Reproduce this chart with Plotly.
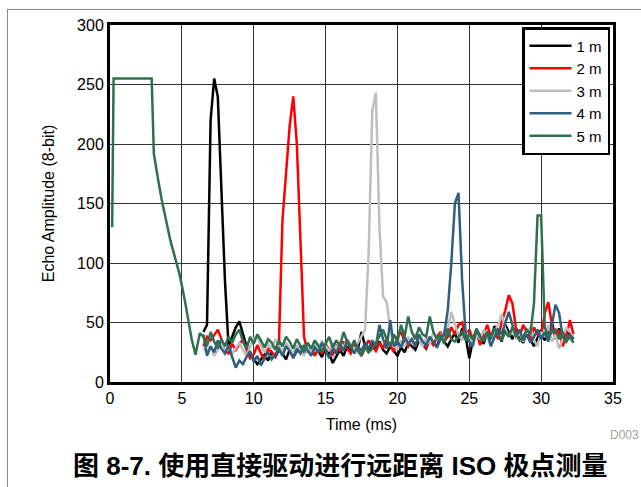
import plotly.graph_objects as go

# Shared sampling grid for the echo/noise segment (ms)
time_ms = [round(6.5 + 0.25 * i, 2) for i in range(104)]

# 5 m ring-down section (start of capture)
ring_t = [0.15, 0.25, 2.9, 3.05, 3.35, 3.6, 4.2, 4.85, 5.2, 5.45, 5.7, 5.95, 6.25]
ring_v = [130, 255, 255, 192, 170, 153, 119, 90, 69, 52, 35, 23, 41]

echo_1m = [42, 48,
           220, 255, 240, 160,
           85, 30, 38, 46,
           51, 40, 30, 24,
           20, 15, 19, 23,
           18, 25, 21, 27,
           24, 19, 27, 21,
           26, 30, 24, 28,
           23, 31, 26, 21,
           29, 24, 16, 22,
           27, 22, 30, 25,
           33, 28, 42, 30,
           25, 32, 28, 34,
           27, 24, 30, 26,
           22, 29, 25, 33,
           30, 27, 35, 31,
           28, 36, 33, 30,
           38, 34, 30, 36,
           41, 33, 45, 38,
           20, 35, 44, 39,
           32, 42, 36, 47,
           40, 34, 48, 42,
           36, 45, 38, 33,
           42, 36, 30, 37,
           44, 35, 40, 50,
           38, 45, 35, 42,
           40, 36]

echo_2m = [30, 38,
           35, 40, 44, 36,
           26, 24, 32, 27,
           31, 36, 27, 20,
           23, 31, 24, 19,
           28, 25, 21, 30,
           136, 175, 215, 240,
           200, 120, 38, 25,
           30, 22, 28, 24,
           32, 27, 23, 30,
           26, 34, 28, 24,
           31, 27, 22, 29,
           35, 30, 26, 33,
           28, 36, 31, 25,
           38, 42, 34, 30,
           36, 30, 39, 33,
           29, 35, 31, 38,
           42, 34, 38, 46,
           40, 48, 50, 38,
           44, 36, 42, 31,
           40, 48, 38, 44,
           36, 50, 60, 73,
           66, 45, 38, 48,
           42, 35, 46, 40,
           38, 58, 67, 48,
           36, 44, 30, 38,
           52, 40]

echo_3m = [28, 25,
           30, 22, 27, 33,
           26, 30, 24, 28,
           33, 27, 22, 30,
           36, 39, 30, 25,
           32, 28, 36, 30,
           26, 33, 29, 24,
           31, 27, 22, 29,
           25, 32, 28, 35,
           30, 26, 33, 28,
           34, 29, 36, 31,
           27, 33, 38, 44,
           110, 228, 243, 130,
           72, 67, 45, 30,
           28, 35, 30, 38,
           33, 40, 36, 30,
           37, 32, 42, 35,
           40, 36, 45, 59,
           48, 40, 35, 42,
           38, 32, 40, 36,
           44, 38, 30, 42,
           48, 57, 45, 38,
           44, 36, 42, 34,
           40, 46, 35, 30,
           42, 38, 48, 34,
           40, 28, 36, 46,
           42, 38]

echo_4m = [40, 22,
           30, 25, 35, 28,
           24, 31, 21, 12,
           18, 15, 21, 26,
           17, 22, 14, 20,
           25, 19, 23, 28,
           22, 30, 26, 20,
           28, 24, 31, 26,
           22, 29, 25, 33,
           27, 20, 28, 24,
           32, 26, 35, 29,
           24, 30, 26, 33,
           28, 35, 30, 48,
           36, 28, 52, 30,
           34, 29, 38, 32,
           36, 30, 40, 34,
           31, 38, 33, 29,
           36, 40, 60, 100,
           150, 159, 86, 40,
           34, 30, 45, 38,
           35, 42, 30, 38,
           45, 40, 50, 59,
           48, 38, 44, 35,
           40, 33, 38, 44,
           36, 42, 34, 48,
           65, 58, 38, 34,
           40, 36]

echo_5m = [38, 30,
           42, 34, 28, 36,
           30, 38, 33, 40,
           44, 34, 28, 38,
           32, 40, 35, 29,
           36, 33, 27, 35,
           30, 38, 34, 28,
           36, 31, 25, 33,
           28, 35, 30, 26,
           32, 38, 29, 35,
           30, 42, 34, 28,
           35, 26, 22, 30,
           25, 28, 33, 38,
           44, 36, 30, 40,
           34, 48, 38, 55,
           42, 36, 46, 40,
           38, 55, 42, 36,
           40, 32, 45, 36,
           34, 38, 42, 35,
           40, 36, 44, 38,
           34, 42, 37, 45,
           40, 35, 42, 38,
           46, 40, 35, 38,
           44, 40, 66, 140,
           140, 46, 38, 42,
           44, 36, 42, 34,
           38, 33]

series_names = ["1 m", "2 m", "3 m", "4 m", "5 m"]
series_colors = ["#000000", "#FF0000", "#BFBFBF", "#2E5F7E", "#2E6F4F"]

x_ticks = [0, 5, 10, 15, 20, 25, 30, 35]
y_ticks = [0, 50, 100, 150, 200, 250, 300]

FONT = "Liberation Sans, Arial, sans-serif"

fig = go.Figure()
data = [
    (time_ms, echo_1m),
    (time_ms, echo_2m),
    (time_ms, echo_3m),
    (time_ms, echo_4m),
    (ring_t + time_ms, ring_v + echo_5m),
]
for (xs, ys), name, col in zip(data, series_names, series_colors):
    fig.add_trace(go.Scatter(x=xs, y=ys, mode="lines", name=name,
                             line=dict(color=col, width=2.5)))

L, R, T, B = 110, 613, 25, 382
W, H = 641, 487


def px(x):
    return (x - L) / (R - L)


def py(y):
    return (B - y) / (B - T)


fig.update_layout(
    width=W, height=H,
    margin=dict(l=L, r=W - R, t=T, b=H - B),
    paper_bgcolor="white", plot_bgcolor="white",
    font=dict(family=FONT, size=16, color="black"),
    showlegend=True,
    legend=dict(x=px(522), xanchor="left", y=py(27), yanchor="top",
                bgcolor="white", bordercolor="black", borderwidth=2.5,
                font=dict(size=15), tracegroupgap=0, itemwidth=42),
    xaxis=dict(range=[0, 35], tickvals=x_ticks, showgrid=True,
               gridcolor="#333333", gridwidth=1, showline=True,
               linecolor="black", linewidth=3, mirror=True, zeroline=False,
               ticks="", tickfont=dict(size=16),
               title=dict(text="Time (ms)", font=dict(size=16), standoff=13)),
    yaxis=dict(range=[0, 300], tickvals=y_ticks, showgrid=True,
               gridcolor="#333333", gridwidth=1, showline=True,
               linecolor="black", linewidth=3, mirror=True, zeroline=False,
               ticks="", tickfont=dict(size=16),
               title=dict(text="Echo Amplitude (8-bit)", font=dict(size=16),
                          standoff=19)),
    annotations=[
        dict(text="D003", xref="paper", yref="paper", x=px(641), y=py(435),
             xanchor="right", yanchor="middle", showarrow=False,
             font=dict(size=12, color="#A0A0A0")),
        dict(text="<b>图 8-7. 使用直接驱动进行远距离 ISO 极点测量</b>",
             xref="paper", yref="paper", x=px(340), y=py(466),
             xanchor="center", yanchor="middle", showarrow=False,
             font=dict(size=26, color="black",
                       family="Liberation Sans, Noto Sans CJK SC, sans-serif")),
    ],
)

post = (
    "document.body.style.margin='0';"
    "document.body.style.overflow='hidden';"
    "var fr=document.createElement('div');"
    "fr.style.cssText='position:absolute;left:7px;top:9px;width:634px;"
    "height:478px;border-left:1px solid #8C8C8C;border-top:1px solid #8C8C8C;"
    "pointer-events:none;box-sizing:border-box;';"
    "document.body.appendChild(fr);"
)

fig.write_html("out.html", config={"displayModeBar": False}, post_script=post)
